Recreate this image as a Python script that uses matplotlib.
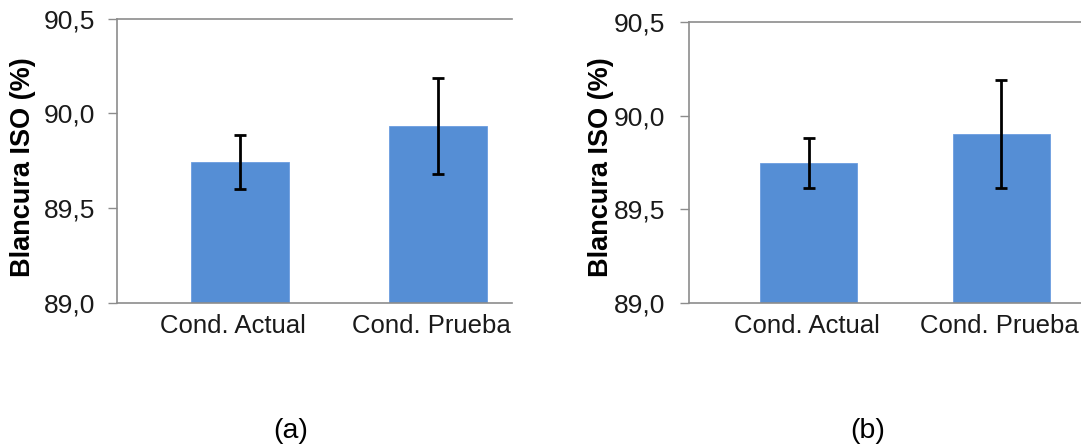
import matplotlib
matplotlib.use("Agg")
import matplotlib.pyplot as plt
from matplotlib.transforms import Bbox, TransformedBbox, ScaledTranslation

plt.rcParams['font.family'] = ['Liberation Sans', 'DejaVu Sans']

categories = ["Cond. Actual", "Cond. Prueba"]
values_a = [89.745, 89.935]
errors_a = [0.142, 0.253]
values_b = [89.748, 89.902]
errors_b = [0.134, 0.290]
yticks = [89.0, 89.5, 90.0, 90.5]
ytick_labels = ["89,0", "89,5", "90,0", "90,5"]
ylabel = "Blancura ISO (%)"
panel_tags = ["(a)", "(b)"]

W, H = 1081, 447
fig = plt.figure(figsize=(W / 100, H / 100), dpi=100)
fig.patch.set_facecolor("white")

bar_color = "#558ed5"
spine_color = "#8c8c8c"
text_color = "#1a1a1a"


def fx(px):
    return px / W


def fy(py):
    return 1 - py / H


panels = [
    dict(vals=values_a, errs=errors_a, rect=(117, 18.5, 512, 303),
         width=0.495, xlim=(-0.621, 1.374), pad=9.5, lab_dx=-7,
         ylab_x=23, tag_x=291),
    dict(vals=values_b, errs=errors_b, rect=(689, 22, 1081, 302.7),
         width=0.506, xlim=(-0.621, 1.414), pad=10.5, lab_dx=-2,
         ylab_x=601, tag_x=868),
]

for p, tag in zip(panels, panel_tags):
    x0, y0, x1, y1 = p["rect"]
    ax = fig.add_axes([fx(x0), fy(y1), fx(x1) - fx(x0), fy(y0) - fy(y1)])
    xs = list(range(len(categories)))
    ax.bar(xs, [v - 89.0 for v in p["vals"]], bottom=89.0, width=p["width"],
           color=bar_color, edgecolor="#6b9de0", linewidth=0.6, zorder=2)
    ax.errorbar(xs, p["vals"], yerr=p["errs"], fmt="none", ecolor="black",
                elinewidth=2.0, capsize=4.5, capthick=2.0, zorder=3)
    ax.set_xlim(*p["xlim"])
    ax.set_ylim(89.0, 90.5)
    ax.set_yticks(yticks)
    ax.set_yticklabels(ytick_labels)
    ax.set_xticks(xs)
    ax.set_xticklabels(categories)
    for s in ["left", "bottom", "top"]:
        ax.spines[s].set_color(spine_color)
        ax.spines[s].set_linewidth(1.2)
    ax.spines["right"].set_visible(False)
    ax.tick_params(axis="y", length=6.5, width=1.0, color=spine_color,
                   pad=p["pad"], labelsize=19, labelcolor=text_color)
    ax.tick_params(axis="x", length=0, pad=8, labelsize=18.5,
                   labelcolor=text_color)
    # labels under the axis are cut off at the bottom edge of the chart area
    clip = TransformedBbox(Bbox([[0, fy(334)], [1, 1]]), fig.transFigure)
    offset = ScaledTranslation(p["lab_dx"] / 100, 0, fig.dpi_scale_trans)
    for lab in ax.get_xticklabels():
        lab.set_transform(lab.get_transform() + offset)
        lab.set_clip_on(True)
        lab.set_clip_box(clip)
    ax.set_facecolor("white")

    fig.text(fx(p["ylab_x"]), fy(167), ylabel, rotation=90, ha="center",
             va="center", fontsize=19.5, fontweight="bold", color="black")
    fig.text(fx(p["tag_x"]), fy(431), tag, ha="center", va="center",
             fontsize=20.5, color="black")

fig.savefig("out.png", dpi=100, facecolor="white")
